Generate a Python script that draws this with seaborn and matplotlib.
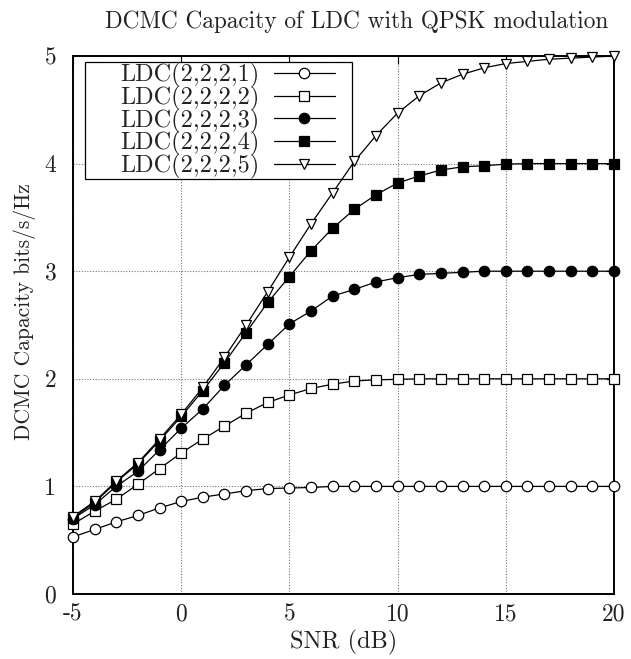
import numpy as np
import pandas as pd
import matplotlib
matplotlib.use("Agg")
import matplotlib.pyplot as plt
from matplotlib.patches import Rectangle
import seaborn as sns

# SNR grid (dB)
snr = list(range(-5, 21))

# DCMC capacity (bits/s/Hz) for each LDC configuration
ldc_1 = [0.53, 0.60, 0.67, 0.73, 0.80, 0.86, 0.90, 0.93, 0.96, 0.98, 0.985, 0.99, 1.0,
         1.0, 1.0, 1.0, 1.0, 1.0, 1.0, 1.0, 1.0, 1.0, 1.0, 1.0, 1.0, 1.0]
ldc_2 = [0.65, 0.77, 0.88, 1.02, 1.165, 1.31, 1.44, 1.56, 1.68, 1.78, 1.85, 1.91, 1.95,
         1.98, 1.99, 1.995, 2.0, 2.0, 2.0, 2.0, 2.0, 2.0, 2.0, 2.0, 2.0, 2.0]
ldc_3 = [0.70, 0.83, 1.00, 1.14, 1.34, 1.54, 1.72, 1.94, 2.13, 2.32, 2.51, 2.63, 2.77,
         2.83, 2.90, 2.94, 2.97, 2.98, 2.99, 3.0, 3.0, 3.0, 3.0, 3.0, 3.0, 3.0]
ldc_4 = [0.71, 0.85, 1.04, 1.21, 1.425, 1.65, 1.89, 2.15, 2.43, 2.71, 2.95, 3.19, 3.40,
         3.575, 3.71, 3.82, 3.885, 3.94, 3.97, 3.98, 3.995, 4.0, 4.0, 4.0, 4.0, 4.0]
ldc_5 = [0.72, 0.86, 1.05, 1.22, 1.44, 1.67, 1.92, 2.20, 2.50, 2.81, 3.13, 3.44, 3.73,
         4.02, 4.26, 4.47, 4.63, 4.75, 4.83, 4.89, 4.93, 4.95, 4.97, 4.98, 4.99, 5.0]

labels = ["LDC(2,2,2,1)", "LDC(2,2,2,2)", "LDC(2,2,2,3)", "LDC(2,2,2,4)", "LDC(2,2,2,5)"]
series = [ldc_1, ldc_2, ldc_3, ldc_4, ldc_5]

x_ticks = [-5, 0, 5, 10, 15, 20]
y_ticks = [0, 1, 2, 3, 4, 5]

sns.set_theme(style="white")
plt.rcParams["font.family"] = ["cmr10", "DejaVu Serif"]
plt.rcParams["axes.unicode_minus"] = False
plt.rcParams["mathtext.fontset"] = "cm"

W, H = 631, 659
fig = plt.figure(figsize=(W / 100, H / 100), dpi=100)
ax = fig.add_axes([73 / W, 1 - 594 / H, (614 - 73) / W, (594 - 56) / H])

styles = [
    dict(marker="o", mfc="white"),
    dict(marker="s", mfc="white"),
    dict(marker="o", mfc="black"),
    dict(marker="s", mfc="black"),
    dict(marker="v", mfc="white"),
]

for lab, vals, st in zip(labels, series, styles):
    df = pd.DataFrame({"snr": snr, "cap": vals})
    sns.lineplot(data=df, x="snr", y="cap", ax=ax, color="black", lw=0.9,
                 marker=st["marker"], markerfacecolor=st["mfc"],
                 markeredgecolor="black", markeredgewidth=0.9,
                 markersize=7.5, label=lab, clip_on=False, zorder=3)

ax.set_xlim(-5, 20)
ax.set_ylim(0, 5)
ax.set_xticks(x_ticks)
ax.set_yticks(y_ticks)
ax.set_xticklabels([str(t) for t in x_ticks])
ax.set_yticklabels([str(t) for t in y_ticks])
ax.tick_params(direction="in", length=6, width=0.8, top=True, right=True,
               labelsize=17, colors="black")
ax.tick_params(axis="x", pad=7)
ax.tick_params(axis="y", pad=12)
for t in ax.get_xticklabels() + ax.get_yticklabels():
    t.set_color("#222222")

ax.grid(True, color="#777777", lw=0.8, linestyle=(0, (1, 1.5)))
for s in ax.spines.values():
    s.set_color("black")
    s.set_linewidth(1.4)

ax.set_xlabel("SNR (dB)", fontsize=17.5, color="#222222", labelpad=3)
ax.set_ylabel("DCMC Capacity bits/s/Hz", fontsize=15.5, color="#222222")
ax.yaxis.set_label_coords(-0.068, 0.524)
ax.set_title("DCMC Capacity of LDC with QPSK modulation", fontsize=16.8,
             color="#222222", x=0.525, pad=20)

# key box: white panel with a thin black border, drawn under the data lines
key_box = Rectangle((85 / W, 1 - 179 / H), (352 - 85) / W, (179 - 62) / H,
                    transform=fig.transFigure, facecolor="white",
                    edgecolor="black", lw=0.9, zorder=2.5, clip_on=False)
ax.add_patch(key_box)

leg = ax.legend(loc="center left", bbox_to_anchor=(120 / W, 1 - 121 / H),
                bbox_transform=fig.transFigure, markerfirst=False,
                frameon=False, fontsize=17.5,
                handlelength=2.5, labelspacing=-0.09, borderpad=0.0,
                handletextpad=0.6, borderaxespad=0.0)
for t in leg.get_texts():
    t.set_color("#222222")

fig.savefig("out.png", dpi=100)
